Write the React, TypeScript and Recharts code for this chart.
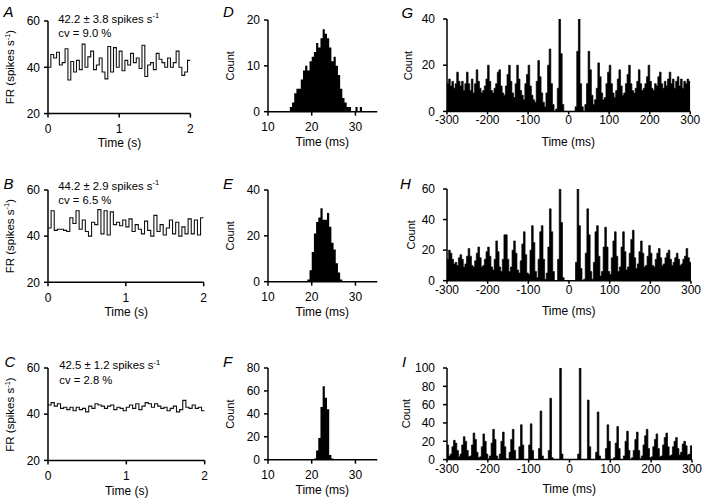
import React from 'react';
import { ComposedChart, Line, Area, XAxis, YAxis } from 'recharts';

const FONT = '"Liberation Sans", Arial, Helvetica, sans-serif';

// ---- Firing-rate traces (A–C): 40 ms bins over 0–2 s, spikes s^-1 ----
const frBinS = 0.04;
const frA = [
  40, 45.5, 44, 46.5, 41, 42, 48, 34.5, 42.5, 38,
  43, 39, 50, 40, 44.5, 47, 39, 41, 44, 38,
  35, 49, 38, 48.5, 40, 47, 38.5, 43, 41, 46,
  42, 44, 39.5, 49.5, 36, 41, 42, 39, 46, 43.5,
  42, 40, 44, 40, 42, 47, 40, 36.5, 38, 43,
];
const frB = [
  43.5, 51, 42.5, 43, 43, 42.5, 42, 48, 45.5, 51,
  43, 47, 42, 40, 46, 45, 51.5, 41, 51, 40.5,
  50.5, 45, 46, 44.5, 47, 44, 47.5, 42, 45, 43,
  41, 46.5, 42.5, 40, 49, 42, 45, 40.5, 43.5, 47,
  41, 46, 40, 44, 41, 47.5, 41, 47, 40.5, 48,
];
const frC = [
  44, 45, 43.5, 44.5, 42.5, 43, 42, 43, 41.5, 43,
  42, 42.5, 41, 43.5, 42.5, 44.5, 44, 43.5, 42.5, 43.5,
  44, 42, 43, 42.5, 41.5, 43, 44, 42.5, 44.5, 42,
  43.5, 45, 44.5, 43, 44.5, 43.5, 42.5, 43, 41.5, 42.5,
  43.5, 41, 42, 46, 43, 42.5, 44, 42.5, 43, 41.5,
];
const frTicksX = [0, 1, 2];
const frTicksY = [20, 40, 60];

// ---- ISI histograms (D–F): 0.5 ms bins ----
const isiBinMs = 0.5;
const isiStartD = 15.0;
const isiD = [1, 2, 4, 5, 5, 7, 9, 10, 9, 11, 12, 13, 15, 14, 16, 18, 17, 16, 14, 11, 12, 10, 8, 5, 3, 2, 1, 1, 0, 0, 1, 0, 1];
const isiStartE = 19.0;
const isiE = [1, 5, 13, 21, 26, 28, 32, 27, 27, 30, 24, 17, 14, 8, 4, 1];
const isiStartF = 20.5;
const isiF = [1, 8, 19, 46, 64, 54, 44, 4, 1];
const isiTicksX = [10, 20, 30];
const isiTicksYD = [0, 10, 20];
const isiTicksYE = [0, 20, 40];
const isiTicksYF = [0, 20, 40, 60, 80];

// ---- Autocorrelograms (G–I): 4 ms bins from -300 to 300 ms ----
const acBinMs = 4;
const acStart = -300;
const acG = [
  12, 14, 11, 13, 10, 12, 17, 13, 11, 13,
  9, 12, 17, 12, 9, 14, 8, 12, 18, 13,
  10, 8, 9, 11, 14, 20, 13, 9, 8, 10,
  12, 17, 18, 11, 8, 7, 11, 16, 20, 13,
  8, 6, 12, 20, 14, 9, 7, 5, 12, 16,
  20, 11, 7, 5, 4, 13, 22, 15, 8, 4,
  2, 8, 20, 27, 12, 3, 0, 1, 10, 40,
  25, 3, 0, 0, 0,
  0, 0, 0, 0, 2, 26, 40, 12, 2, 0,
  3, 12, 26, 18, 7, 3, 5, 10, 21, 15,
  8, 5, 6, 12, 17, 20, 12, 8, 6, 9,
  14, 18, 11, 7, 8, 12, 16, 20, 12, 9,
  8, 10, 13, 18, 12, 9, 10, 12, 15, 20,
  13, 10, 9, 12, 11, 15, 17, 12, 10, 13,
  11, 14, 17, 12, 14, 10, 13, 15, 11, 14,
  10, 13, 12, 14, 13,
];
const acH = [
  14, 20, 18, 14, 11, 12, 10, 15, 17, 14,
  9, 11, 16, 21, 16, 10, 9, 13, 18, 22,
  15, 9, 10, 14, 19, 22, 16, 9, 7, 14,
  26, 19, 9, 6, 14, 30, 30, 14, 6, 9,
  20, 26, 18, 7, 5, 13, 24, 32, 17, 5,
  4, 20, 36, 25, 6, 2, 14, 32, 36, 14,
  1, 5, 22, 47, 32, 6, 0, 0, 14, 60,
  38, 2, 0, 0, 0,
  0, 0, 0, 0, 12, 60, 36, 8, 0, 1,
  18, 47, 30, 6, 1, 12, 32, 36, 16, 3,
  6, 22, 35, 22, 6, 4, 15, 26, 32, 16,
  6, 9, 22, 32, 19, 7, 9, 18, 27, 33,
  15, 8, 11, 19, 26, 18, 9, 10, 16, 23,
  18, 10, 9, 14, 18, 21, 15, 10, 11, 15,
  18, 20, 14, 10, 12, 15, 18, 14, 10, 11,
  14, 16, 21, 15, 12,
];
const acI = [
  16, 4, 6, 14, 21, 18, 10, 3, 6, 16,
  25, 20, 10, 3, 4, 16, 29, 22, 8, 2,
  3, 14, 28, 20, 6, 1, 4, 18, 33, 22,
  4, 0, 6, 20, 30, 14, 1, 0, 8, 22,
  33, 10, 0, 0, 14, 38, 16, 0, 0, 0,
  16, 39, 10, 0, 0, 0, 12, 53, 4, 0,
  0, 0, 10, 67, 2, 0, 0, 0, 0, 100,
  6, 0, 0, 0, 0,
  0, 0, 0, 0, 0, 6, 100, 0, 0, 0,
  0, 65, 14, 0, 0, 0, 8, 52, 4, 0,
  0, 0, 12, 38, 20, 0, 0, 2, 18, 36,
  12, 0, 0, 4, 20, 31, 10, 0, 2, 10,
  22, 30, 10, 1, 4, 16, 26, 33, 12, 2,
  3, 14, 22, 28, 12, 3, 4, 16, 24, 29,
  14, 4, 5, 14, 20, 24, 12, 5, 8, 17,
  20, 15, 5, 6, 15,
];
const acTicksX = [-300, -200, -100, 0, 100, 200, 300];
const acTicksYG = [0, 20, 40];
const acTicksYH = [0, 20, 40, 60];
const acTicksYI = [0, 20, 40, 60, 80, 100];

function stepData(start: number, step: number, values: number[]) {
  const pts = values.map((v, i) => ({ x: start + i * step, y: v }));
  pts.push({ x: start + values.length * step, y: values[values.length - 1] });
  return pts;
}

const ML = 50;
const MR = 12;
const MT = 8;
const MB = 40;

const axisStyle = { stroke: '#000', strokeWidth: 1.5 };
const tickStyle = { fill: '#000', fontSize: 12, fontFamily: FONT };

type PanelProps = {
  left: number;
  top: number;
  w: number;
  h: number;
  data: { x: number; y: number }[];
  xDomain: [number, number];
  yDomain: [number, number];
  xTicks: number[];
  yTicks: number[];
  kind: 'line' | 'area';
  right?: boolean;
};

function Panel(p: PanelProps) {
  const xTickSize = p.right ? 3 : 4;
  const xTickMargin = p.right ? 1.5 : 7;
  const yTickMargin = p.right ? 8 : 4;
  return (
    <div style={{ position: 'absolute', left: p.left - ML, top: p.top - MT }}>
      <ComposedChart
        width={p.w + ML + MR}
        height={p.h + MT + MB}
        data={p.data}
        margin={{ top: MT, right: MR, bottom: 0, left: 0 }}
      >
        <XAxis
          type="number"
          dataKey="x"
          domain={p.xDomain}
          ticks={p.xTicks}
          interval={0}
          height={MB}
          allowDataOverflow
          axisLine={axisStyle}
          tickLine={axisStyle}
          tickSize={xTickSize}
          tickMargin={xTickMargin}
          tick={tickStyle}
        />
        <YAxis
          type="number"
          domain={p.yDomain}
          ticks={p.yTicks}
          interval={0}
          width={ML}
          allowDataOverflow
          axisLine={axisStyle}
          tickLine={axisStyle}
          tickSize={4}
          tickMargin={yTickMargin}
          tick={tickStyle}
        />
        {p.kind === 'line' ? (
          <Line
            type="stepAfter"
            dataKey="y"
            stroke="#111"
            strokeWidth={1.1}
            dot={false}
            activeDot={false}
            isAnimationActive={false}
          />
        ) : (
          <Area
            type="stepAfter"
            dataKey="y"
            stroke={p.right ? '#000' : 'none'}
            strokeWidth={p.right ? 0.7 : 0}
            fill="#000"
            fillOpacity={1}
            activeDot={false}
            isAnimationActive={false}
          />
        )}
      </ComposedChart>
    </div>
  );
}

const panels: (PanelProps & { id: string })[] = [
  { id: 'A', left: 48.3, top: 20.7, w: 142.4, h: 92.6, data: stepData(0, frBinS, frA), xDomain: [0, 2], yDomain: [20, 60], xTicks: frTicksX, yTicks: frTicksY, kind: 'line' },
  { id: 'B', left: 48.3, top: 190, w: 155.7, h: 92.3, data: stepData(0, frBinS, frB), xDomain: [0, 2], yDomain: [20, 60], xTicks: frTicksX, yTicks: frTicksY, kind: 'line' },
  { id: 'C', left: 48.3, top: 368.3, w: 156.7, h: 92.4, data: stepData(0, frBinS, frC), xDomain: [0, 2], yDomain: [20, 60], xTicks: frTicksX, yTicks: frTicksY, kind: 'line' },
  { id: 'D', left: 267.7, top: 20, w: 109.3, h: 91.7, data: stepData(isiStartD, isiBinMs, isiD), xDomain: [10, 35], yDomain: [0, 20], xTicks: isiTicksX, yTicks: isiTicksYD, kind: 'area' },
  { id: 'E', left: 267.7, top: 190, w: 109.3, h: 91.7, data: stepData(isiStartE, isiBinMs, isiE), xDomain: [10, 35], yDomain: [0, 40], xTicks: isiTicksX, yTicks: isiTicksYE, kind: 'area' },
  { id: 'F', left: 267.7, top: 368.3, w: 109.3, h: 91.7, data: stepData(isiStartF, isiBinMs, isiF), xDomain: [10, 35], yDomain: [0, 80], xTicks: isiTicksX, yTicks: isiTicksYF, kind: 'area' },
  { id: 'G', left: 446.7, top: 19.3, w: 243.3, h: 92.4, data: stepData(acStart, acBinMs, acG), xDomain: [-300, 300], yDomain: [0, 40], xTicks: acTicksX, yTicks: acTicksYG, kind: 'area', right: true },
  { id: 'H', left: 446.7, top: 189, w: 244, h: 91.7, data: stepData(acStart, acBinMs, acH), xDomain: [-300, 300], yDomain: [0, 60], xTicks: acTicksX, yTicks: acTicksYH, kind: 'area', right: true },
  { id: 'I', left: 446.7, top: 367.7, w: 245, h: 91.6, data: stepData(acStart, acBinMs, acI), xDomain: [-300, 300], yDomain: [0, 100], xTicks: acTicksX, yTicks: acTicksYI, kind: 'area', right: true },
];

const letters = [
  { t: 'A', x: 3.5, y: 17 },
  { t: 'B', x: 3.5, y: 188.5 },
  { t: 'C', x: 4.5, y: 366.5 },
  { t: 'D', x: 223, y: 17 },
  { t: 'E', x: 223, y: 188.5 },
  { t: 'F', x: 223, y: 366.5 },
  { t: 'G', x: 401.5, y: 17.5 },
  { t: 'H', x: 400, y: 188.5 },
  { t: 'I', x: 402, y: 367 },
];

const stats = [
  { x: 58.3, y1: 22.5, y2: 36.5, mean: '42.2 ± 3.8 spikes s', cv: 'cv = 9.0 %' },
  { x: 58.3, y1: 189.5, y2: 204, mean: '44.2 ± 2.9 spikes s', cv: 'cv = 6.5 %' },
  { x: 59.3, y1: 369.3, y2: 384, mean: '42.5 ± 1.2 spikes s', cv: 'cv = 2.8 %' },
];

const countLabelX: Record<string, number> = { D: 234.5, E: 234.5, F: 234.5, G: 411.5, H: 415, I: 410 };

export default function App() {
  return (
    <div style={{ position: 'absolute', left: 0, top: 0, width: 702, height: 503, background: '#fff' }}>
      {panels.map((p) => (
        <Panel key={p.id} {...p} />
      ))}
      <svg
        width={702}
        height={503}
        style={{ position: 'absolute', left: 0, top: 0, pointerEvents: 'none' }}
        fontFamily={FONT}
        fill="#000"
      >
        {letters.map((l) => (
          <text key={l.t} x={l.x} y={l.y} fontSize={15} fontStyle="italic">
            {l.t}
          </text>
        ))}
        {stats.map((s, i) => (
          <g key={i} fontSize={11.3}>
            <text x={s.x} y={s.y1}>
              {s.mean}
              <tspan dy={-4.5} fontSize={7.5}>-1</tspan>
            </text>
            <text x={s.x} y={s.y2}>{s.cv}</text>
          </g>
        ))}
        {panels.map((p) => {
          const cx = p.left + p.w / 2;
          const cy = p.top + p.h / 2;
          const bottom = p.top + p.h;
          const xLabel = p.kind === 'line' ? 'Time (s)' : 'Time (ms)';
          return (
            <g key={'lab' + p.id}>
              <text x={cx} y={bottom + 34} fontSize={12} textAnchor="middle">
                {xLabel}
              </text>
              {p.kind === 'line' ? (
                <text x={14} y={cy} fontSize={11.5} textAnchor="middle" transform={`rotate(-90 14 ${cy})`}>
                  FR (spikes s
                  <tspan dy={-4.5} fontSize={7.5}>-1</tspan>
                  <tspan dy={4.5}>)</tspan>
                </text>
              ) : (
                <text
                  x={countLabelX[p.id]}
                  y={cy}
                  fontSize={11}
                  textAnchor="middle"
                  transform={`rotate(-90 ${countLabelX[p.id]} ${cy})`}
                >
                  Count
                </text>
              )}
            </g>
          );
        })}
      </svg>
    </div>
  );
}
